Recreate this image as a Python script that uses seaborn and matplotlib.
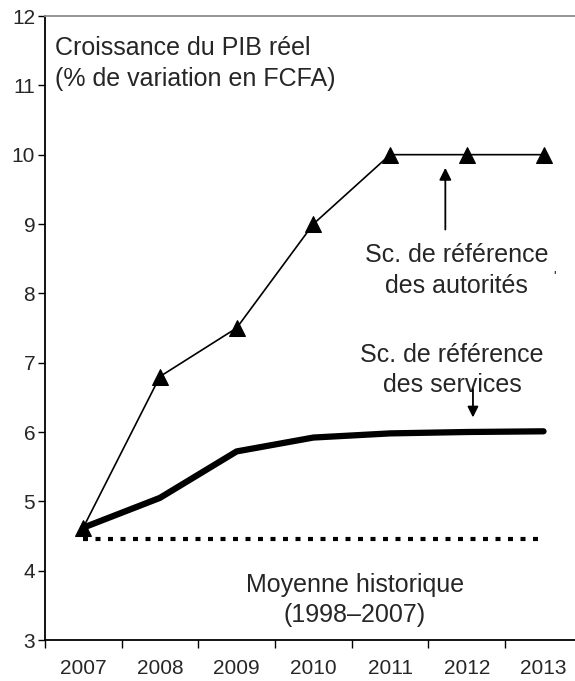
import numpy as np
import pandas as pd
import seaborn as sns
import matplotlib.pyplot as plt
from matplotlib.ticker import MultipleLocator, FixedLocator

# data
years = [2007, 2008, 2009, 2010, 2011, 2012, 2013]
autorites = [4.62, 6.8, 7.5, 9.0, 10.0, 10.0, 10.0]
services = [4.62, 5.05, 5.72, 5.92, 5.98, 6.0, 6.01]
moyenne_hist = 4.45

sns.set_style("ticks")
plt.rcParams['font.family'] = ['Liberation Sans', 'DejaVu Sans']

df = pd.DataFrame({'annee': years, 'autorites': autorites, 'services': services})

fig = plt.figure(figsize=(5.75, 6.81), dpi=100)
ax = fig.add_axes([0.078, 0.0602, 0.934, 0.9163])

sns.lineplot(data=df, x='annee', y='services', ax=ax, color='black', lw=4.5,
             solid_capstyle='round', solid_joinstyle='round')
sns.lineplot(data=df, x='annee', y='autorites', ax=ax, color='black', lw=1.2,
             marker='^', markersize=11, markeredgecolor='black')
ax.plot([years[0], years[-1]], [moyenne_hist, moyenne_hist], color='black',
        lw=3, linestyle=(0, (1.2, 1.8)))

ax.set_xlim(2006.5, 2013.5)
ax.set_ylim(3, 12)
ax.yaxis.set_major_locator(MultipleLocator(1))
ax.xaxis.set_major_locator(FixedLocator(years))
ax.xaxis.set_minor_locator(FixedLocator([y + 0.5 for y in [2006] + years]))
ax.set_xticklabels([str(y) for y in years])
ax.tick_params(axis='x', which='major', length=0, labelsize=15, pad=14)
ax.tick_params(axis='x', which='minor', length=6, width=1, color='black')
ax.tick_params(axis='y', length=5, width=1, labelsize=15, color='black', pad=2)
ax.set_xlabel('')
ax.set_ylabel('')

for s in ['left', 'bottom']:
    ax.spines[s].set_color('black')
    ax.spines[s].set_linewidth(1.3)
ax.spines['top'].set_color('#8c8c8c')
ax.spines['top'].set_linewidth(1.3)
ax.spines['right'].set_visible(False)

fs = 18
ax.text(2006.63, 11.44, 'Croissance du PIB réel', fontsize=fs, va='baseline', ha='left')
ax.text(2006.63, 10.99, '(% de variation en FCFA)', fontsize=fs, va='baseline', ha='left')

ax.text(2011.87, 8.45, 'Sc. de référence', fontsize=fs, ha='center', va='baseline')
ax.text(2011.87, 8.0, 'des autorités', fontsize=fs, ha='center', va='baseline')
ax.annotate('', xy=(2011.72, 9.85), xytext=(2011.72, 8.88),
            arrowprops=dict(arrowstyle='-|>', color='black', lw=1.3, mutation_scale=18))
ax.text(2013.14, 8.24, 'ʹ', fontsize=10, ha='center', va='center')

ax.text(2011.81, 7.01, 'Sc. de référence', fontsize=fs, ha='center', va='baseline')
ax.text(2011.81, 6.58, 'des services', fontsize=fs, ha='center', va='baseline')
ax.annotate('', xy=(2012.08, 6.17), xytext=(2012.08, 6.66),
            arrowprops=dict(arrowstyle='-|>', color='black', lw=1.3, mutation_scale=16))

ax.text(2010.54, 3.69, 'Moyenne historique', fontsize=fs, ha='center', va='baseline')
ax.text(2010.54, 3.26, '(1998–2007)', fontsize=fs, ha='center', va='baseline')

fig.savefig('out.png', dpi=100)
